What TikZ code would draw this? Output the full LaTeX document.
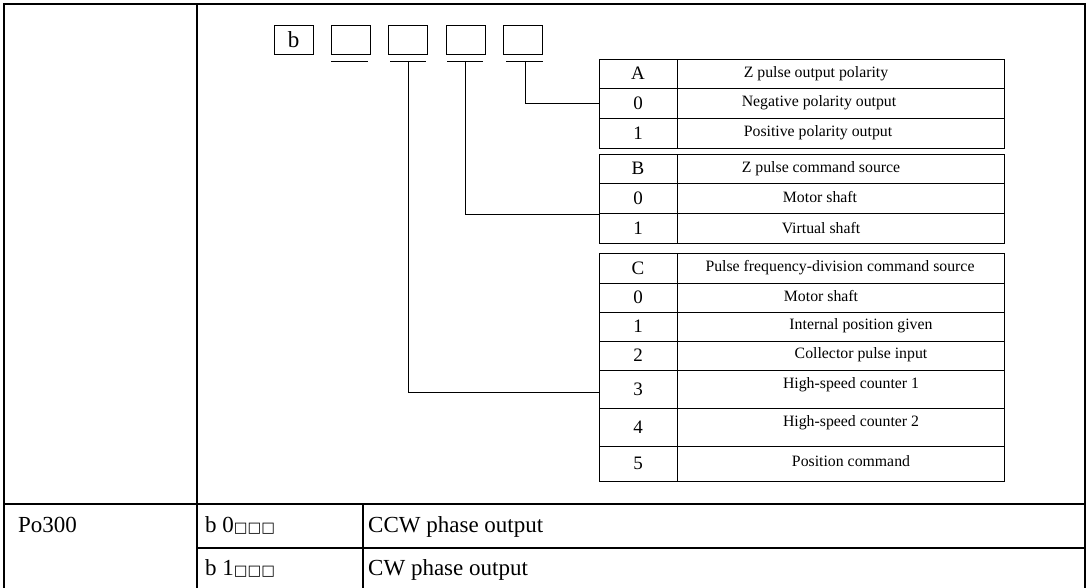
\documentclass[tikz,border=0pt]{standalone}
\usepackage{fontspec}
\setmainfont{Liberation Serif}
\newfontfamily\symfont{DejaVu Sans}
\newcommand{\sq}{{\symfont\fontsize{14.5}{16}\selectfont □□□}}
\begin{document}
\begin{tikzpicture}[x=1pt,y=-1pt,
  frame/.style={line width=2pt},
  thinline/.style={line width=0.9pt},
  digitbox/.style={draw, thinline, minimum width=39pt, minimum height=29pt,
    inner sep=0pt, outer sep=0pt, font=\fontsize{23}{25}\selectfont},
  keycell/.style={draw, thinline, minimum width=78pt, inner sep=0pt, outer sep=0pt,
    anchor=north west, font=\fontsize{19}{21}\selectfont},
  valcell/.style={draw, thinline, minimum width=327pt, inner sep=0pt, outer sep=0pt,
    anchor=north west},
  desc/.style={font=\fontsize{15.8}{18}\selectfont, inner sep=0pt},
  bigtext/.style={font=\fontsize{23}{25}\selectfont, inner sep=0pt, anchor=base west},
  link/.style={thinline},
]
\useasboundingbox (0,0) rectangle (1087,588);

% outer table grid
\draw[frame] (4,588) -- (4,4) -- (1085,4) -- (1085,588);
\draw[frame] (197,4) -- (197,588);
\draw[frame] (4,504) -- (1085,504);
\draw[frame] (197,548) -- (1085,548);
\draw[frame] (363,504) -- (363,588);

% parameter digit boxes
\node[digitbox] (d0) at (293.5,39.5) {b};
\node[digitbox] (d1) at (350.5,39.5) {};
\node[digitbox] (d2) at (408,39.5) {};
\node[digitbox] (d3) at (465.5,39.5) {};
\node[digitbox] (d4) at (523,39.5) {};

% underlines below the digits
\draw[thinline] (331,61) -- (368,61);
\draw[thinline] (390,61) -- (426,61);
\coordinate (u2) at (408,61);
\draw[thinline] (447,61) -- (483,61);
\coordinate (u3) at (465,61);
\draw[thinline] (506,61) -- (543,61);
\coordinate (u4) at (525,61);

% table A
\node[keycell, minimum height=29pt] (ka) at (599,59) {A};
\node[valcell, minimum height=29pt] (va) at (677,59) {};
\node[desc] (ta) at (816,73.5) {Z pulse output polarity};
\node[keycell, minimum height=30pt] (ka0) at (599,88) {0};
\node[valcell, minimum height=30pt] (va0) at (677,88) {};
\node[desc] (ta0) at (819,103) {Negative polarity output};
\node[keycell, minimum height=30pt] (ka1) at (599,118) {1};
\node[valcell, minimum height=30pt] (va1) at (677,118) {};
\node[desc] (ta1) at (818,133) {Positive polarity output};

% table B
\node[keycell, minimum height=29pt] (kb) at (599,154) {B};
\node[valcell, minimum height=29pt] (vb) at (677,154) {};
\node[desc] (tb) at (821,168.5) {Z pulse command source};
\node[keycell, minimum height=30pt] (kb0) at (599,183) {0};
\node[valcell, minimum height=30pt] (vb0) at (677,183) {};
\node[desc] (tb0) at (820,197.5) {Motor shaft};
\node[keycell, minimum height=30pt] (kb1) at (599,213) {1};
\node[valcell, minimum height=30pt] (vb1) at (677,213) {};
\node[desc] (tb1) at (821,228) {Virtual shaft};

% table C
\node[keycell, minimum height=30pt] (kc) at (599,253) {C};
\node[valcell, minimum height=30pt] (vc) at (677,253) {};
\node[desc] (tc) at (840,268) {Pulse frequency-division command source};
\node[keycell, minimum height=29pt] (kc0) at (599,283) {0};
\node[valcell, minimum height=29pt] (vc0) at (677,283) {};
\node[desc] (tc0) at (821,296) {Motor shaft};
\node[keycell, minimum height=29pt] (kc1) at (599,312) {1};
\node[valcell, minimum height=29pt] (vc1) at (677,312) {};
\node[desc] (tc1) at (861,326) {Internal position given};
\node[keycell, minimum height=29pt] (kc2) at (599,341) {2};
\node[valcell, minimum height=29pt] (vc2) at (677,341) {};
\node[desc] (tc2) at (861,355) {Collector pulse input};
\node[keycell, minimum height=38pt] (kc3) at (599,370) {3};
\node[valcell, minimum height=38pt] (vc3) at (677,370) {};
\node[desc] (tc3) at (851,385) {High-speed counter 1};
\node[keycell, minimum height=38pt] (kc4) at (599,408) {4};
\node[valcell, minimum height=38pt] (vc4) at (677,408) {};
\node[desc] (tc4) at (851,423) {High-speed counter 2};
\node[keycell, minimum height=35pt] (kc5) at (599,446) {5};
\node[valcell, minimum height=35pt] (vc5) at (677,446) {};
\node[desc] (tc5) at (851,461) {Position command};

% connectors from the digits to their tables
\draw[link] (u4) |- (ka0.west);
\draw[link] (u3) |- ([yshift=-1pt]kb1.north west);
\draw[link] (u2) |- ([yshift=-3pt]kc3.west);

% lower rows
\node[bigtext] (p) at (18,532) {Po300};
\node[bigtext] (b0) at (205,532) {b 0\sq};
\node[bigtext] (b0t) at (368,532) {CCW phase output};
\node[bigtext] (b1) at (205,575) {b 1\sq};
\node[bigtext] (b1t) at (368,575) {CW phase output};
\end{tikzpicture}
\end{document}
